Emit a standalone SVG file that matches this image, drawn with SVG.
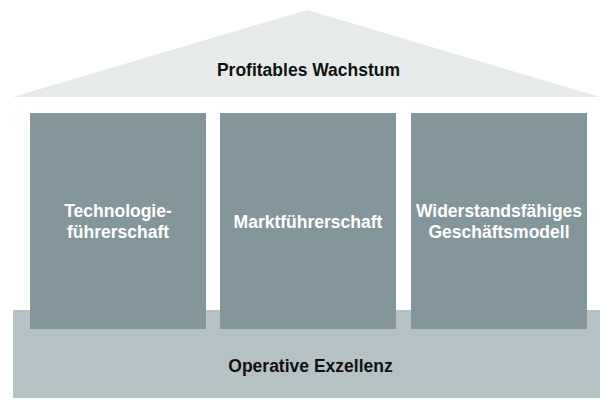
<svg xmlns="http://www.w3.org/2000/svg" width="600" height="400" viewBox="0 0 600 400">
<style>
.t{font-family:"Liberation Sans",Arial,sans-serif;font-weight:bold;font-size:17.5px;text-anchor:middle}
.w{fill:#ffffff}
.k{fill:#111111}
.p{fill:#82969b}
</style>
<rect width="600" height="400" fill="#ffffff"/>
<g id="roof">
<polygon points="13,97 307,10 600,97" fill="#e6eaea"/>
<text class="t k" x="308.5" y="76">Profitables Wachstum</text>
</g>
<g id="base">
<rect x="13" y="310" width="587" height="88" fill="#b4c1c5"/>
<text class="t k" x="310.5" y="372">Operative Exzellenz</text>
</g>
<g id="pillar1">
<rect class="p" x="30" y="113" width="176" height="216"/>
<text class="t w" x="118" y="217">Technologie-</text>
<text class="t w" x="118" y="238">führerschaft</text>
</g>
<g id="pillar2">
<rect class="p" x="220" y="113" width="176" height="216"/>
<text class="t w" x="308" y="228">Marktführerschaft</text>
</g>
<g id="pillar3">
<rect class="p" x="411" y="113" width="176" height="216"/>
<text class="t w" x="499" y="217">Widerstandsfähiges</text>
<text class="t w" x="499" y="238">Geschäftsmodell</text>
</g>
<g id="connectors"></g>
</svg>
